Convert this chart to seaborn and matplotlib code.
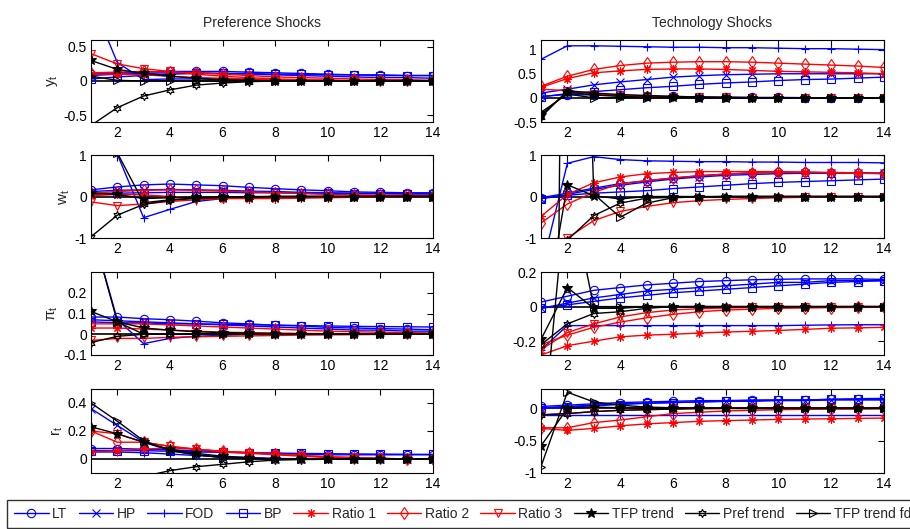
"""
Impulse responses to preference and technology shocks, 8 panels + shared legend
"""

import matplotlib
matplotlib.use("Agg")
import matplotlib.pyplot as plt
import matplotlib.ticker as mticker
import pandas as pd
import seaborn as sns

# Data
periods = list(range(1, 15))
series = ["LT", "HP", "FOD", "BP", "Ratio 1", "Ratio 2", "Ratio 3",
          "TFP trend", "Pref trend", "TFP trend fd"]

# preference shock, output
pref_y = [
    [0.10, 0.12, 0.13, 0.14, 0.14, 0.14, 0.13, 0.12, 0.11, 0.10, 0.09, 0.09, 0.08, 0.08],
    [0.08, 0.10, 0.11, 0.12, 0.12, 0.11, 0.10, 0.09, 0.08, 0.07, 0.06, 0.05, 0.05, 0.04],
    [1.20, 0.27, 0.02, 0.03, 0.03, 0.02, 0.02, 0.01, 0.01, 0.01, 0.00, 0.00, 0.00, 0.00],
    [0.03, 0.06, 0.08, 0.10, 0.11, 0.11, 0.11, 0.10, 0.10, 0.09, 0.09, 0.08, 0.08, 0.08],
    [0.10, 0.10, 0.09, 0.07, 0.05, 0.04, 0.03, 0.02, 0.01, 0.01, 0.00, 0.00, 0.00, 0.00],
    [0.12, 0.13, 0.14, 0.13, 0.12, 0.10, 0.08, 0.06, 0.05, 0.04, 0.03, 0.02, 0.02, 0.01],
    [0.40, 0.25, 0.18, 0.14, 0.10, 0.07, 0.05, 0.03, 0.02, 0.01, 0.01, 0.00, 0.00, 0.00],
    [0.30, 0.17, 0.11, 0.07, 0.04, 0.02, 0.01, 0.00, 0.00, 0.00, 0.00, 0.00, 0.00, 0.00],
    [-0.65, -0.39, -0.22, -0.13, -0.06, -0.03, -0.01, 0.00, 0.00, 0.00, 0.00, 0.00, 0.00, 0.00],
    [0.07, 0.01, 0.00, 0.00, 0.00, 0.00, 0.00, 0.00, 0.00, 0.00, 0.00, 0.00, 0.00, 0.00],
]

# preference shock, wages
pref_w = [
    [0.16, 0.23, 0.28, 0.30, 0.28, 0.26, 0.22, 0.19, 0.16, 0.14, 0.11, 0.10, 0.09, 0.09],
    [0.12, 0.15, 0.16, 0.17, 0.16, 0.15, 0.13, 0.12, 0.10, 0.09, 0.08, 0.07, 0.06, 0.06],
    [3.00, 1.02, -0.51, -0.31, -0.12, -0.05, -0.02, -0.01, 0.00, 0.00, 0.00, 0.00, 0.00, 0.00],
    [0.05, 0.08, 0.09, 0.10, 0.10, 0.10, 0.09, 0.09, 0.08, 0.08, 0.07, 0.07, 0.07, 0.07],
    [0.02, 0.05, 0.04, 0.00, -0.04, -0.05, -0.05, -0.05, -0.04, -0.03, -0.02, -0.02, -0.01, -0.01],
    [0.08, 0.12, 0.15, 0.16, 0.15, 0.13, 0.11, 0.09, 0.07, 0.05, 0.04, 0.03, 0.03, 0.02],
    [-0.13, -0.22, -0.18, -0.12, -0.08, -0.05, -0.03, -0.02, -0.01, -0.01, 0.00, 0.00, 0.00, 0.00],
    [0.08, 0.05, -0.05, -0.03, -0.02, -0.01, 0.00, 0.00, 0.00, 0.00, 0.00, 0.00, 0.00, 0.00],
    [-0.97, -0.45, -0.19, -0.09, -0.04, -0.02, -0.01, 0.00, 0.00, 0.00, 0.00, 0.00, 0.00, 0.00],
    [3.00, 1.05, -0.15, -0.08, -0.04, -0.02, -0.01, 0.00, 0.00, 0.00, 0.00, 0.00, 0.00, 0.00],
]

# preference shock, inflation
pref_pi = [
    [0.083, 0.083, 0.075, 0.070, 0.063, 0.055, 0.050, 0.043, 0.040, 0.033, 0.030, 0.027, 0.025, 0.022],
    [0.070, 0.065, 0.060, 0.055, 0.050, 0.045, 0.040, 0.035, 0.030, 0.025, 0.020, 0.020, 0.015, 0.015],
    [0.520, 0.070, -0.045, -0.020, -0.010, -0.005, 0.000, 0.000, 0.000, 0.000, 0.000, 0.000, 0.000, 0.000],
    [0.060, 0.055, 0.055, 0.050, 0.050, 0.048, 0.046, 0.044, 0.042, 0.040, 0.038, 0.037, 0.036, 0.035],
    [0.030, 0.030, 0.025, 0.020, 0.015, 0.010, 0.008, 0.006, 0.004, 0.003, 0.002, 0.001, 0.000, 0.000],
    [0.050, 0.050, 0.050, 0.045, 0.040, 0.035, 0.030, 0.025, 0.020, 0.015, 0.012, 0.010, 0.008, 0.006],
    [-0.030, -0.020, -0.020, -0.015, -0.012, -0.010, -0.008, -0.006, -0.004, -0.003, -0.002, -0.001, 0.000, 0.000],
    [0.110, 0.060, 0.030, 0.020, 0.012, 0.008, 0.005, 0.003, 0.002, 0.001, 0.000, 0.000, 0.000, 0.000],
    [-0.040, -0.010, 0.000, 0.000, 0.000, 0.000, 0.000, 0.000, 0.000, 0.000, 0.000, 0.000, 0.000, 0.000],
    [0.520, 0.060, 0.000, 0.000, 0.000, 0.000, 0.000, 0.000, 0.000, 0.000, 0.000, 0.000, 0.000, 0.000],
]

# preference shock, interest rate
pref_r = [
    [0.075, 0.075, 0.070, 0.065, 0.060, 0.050, 0.045, 0.040, 0.035, 0.030, 0.030, 0.030, 0.030, 0.030],
    [0.360, 0.240, 0.120, 0.060, 0.030, 0.010, 0.005, 0.000, 0.000, 0.000, 0.000, 0.000, 0.000, 0.000],
    [0.050, 0.050, 0.045, 0.035, 0.025, 0.015, 0.010, 0.005, 0.000, 0.000, 0.000, 0.000, 0.000, 0.000],
    [0.060, 0.060, 0.060, 0.055, 0.050, 0.048, 0.045, 0.042, 0.040, 0.038, 0.036, 0.035, 0.034, 0.033],
    [0.050, 0.060, 0.070, 0.080, 0.070, 0.055, 0.045, 0.035, 0.025, 0.015, 0.010, 0.005, 0.000, 0.000],
    [0.200, 0.120, 0.120, 0.090, 0.070, 0.055, 0.045, 0.035, 0.025, 0.015, 0.010, 0.005, 0.000, 0.000],
    [0.200, 0.180, 0.120, 0.090, 0.070, 0.050, 0.040, 0.030, 0.020, 0.010, 0.010, 0.000, 0.000, 0.000],
    [0.230, 0.180, 0.120, 0.070, 0.040, 0.020, 0.010, 0.000, 0.000, 0.000, 0.000, 0.000, 0.000, 0.000],
    [-0.300, -0.200, -0.125, -0.083, -0.055, -0.038, -0.020, -0.008, -0.004, -0.002, 0.000, 0.000, 0.000, 0.000],
    [0.400, 0.270, 0.130, 0.060, 0.030, 0.010, 0.000, 0.000, 0.000, 0.000, 0.000, 0.000, 0.000, 0.000],
]

# technology shock, output
tech_y = [
    [0.03, 0.07, 0.06, 0.05, 0.04, 0.03, 0.02, 0.015, 0.01, 0.01, 0.005, 0.00, 0.00, 0.00],
    [0.10, 0.18, 0.27, 0.33, 0.38, 0.43, 0.46, 0.48, 0.49, 0.50, 0.50, 0.50, 0.50, 0.50],
    [0.80, 1.08, 1.08, 1.07, 1.06, 1.05, 1.05, 1.04, 1.04, 1.03, 1.02, 1.02, 1.01, 1.00],
    [0.02, 0.09, 0.13, 0.17, 0.21, 0.24, 0.28, 0.31, 0.33, 0.36, 0.38, 0.39, 0.41, 0.43],
    [0.22, 0.40, 0.52, 0.56, 0.59, 0.60, 0.60, 0.59, 0.57, 0.55, 0.54, 0.53, 0.52, 0.50],
    [0.24, 0.45, 0.59, 0.67, 0.72, 0.74, 0.75, 0.75, 0.74, 0.72, 0.70, 0.68, 0.66, 0.63],
    [0.18, 0.15, 0.08, 0.05, 0.03, 0.02, 0.015, 0.01, 0.005, 0.00, 0.00, 0.00, 0.00, 0.00],
    [-0.35, 0.12, 0.06, 0.03, 0.015, 0.01, 0.005, 0.00, 0.00, 0.00, 0.00, 0.00, 0.00, 0.00],
    [-0.40, 0.15, 0.10, 0.07, 0.05, 0.03, 0.02, 0.01, 0.005, 0.00, 0.00, 0.00, 0.00, 0.00],
    [-0.30, 0.08, 0.00, 0.00, 0.00, 0.00, 0.00, 0.00, 0.00, 0.00, 0.00, 0.00, 0.00, 0.00],
]

# technology shock, wages
tech_w = [
    [-0.03, 0.08, 0.20, 0.31, 0.38, 0.44, 0.50, 0.54, 0.57, 0.58, 0.58, 0.57, 0.57, 0.56],
    [-0.05, 0.05, 0.17, 0.27, 0.35, 0.42, 0.47, 0.51, 0.53, 0.55, 0.56, 0.56, 0.56, 0.56],
    [-1.80, 0.80, 0.96, 0.89, 0.86, 0.85, 0.84, 0.84, 0.83, 0.83, 0.82, 0.82, 0.82, 0.81],
    [-0.05, 0.03, 0.08, 0.11, 0.14, 0.19, 0.23, 0.27, 0.31, 0.34, 0.36, 0.38, 0.40, 0.42],
    [-0.48, 0.05, 0.33, 0.47, 0.55, 0.58, 0.60, 0.60, 0.60, 0.60, 0.59, 0.58, 0.57, 0.55],
    [-0.64, -0.18, 0.10, 0.31, 0.38, 0.45, 0.50, 0.54, 0.57, 0.58, 0.58, 0.57, 0.56, 0.55],
    [-1.40, -1.00, -0.58, -0.36, -0.24, -0.15, -0.10, -0.07, -0.05, -0.03, -0.02, -0.01, -0.01, 0.00],
    [-3.40, 0.28, 0.02, -0.06, 0.00, 0.00, 0.00, 0.00, 0.00, 0.00, 0.00, 0.00, 0.00, 0.00],
    [-1.60, -1.05, -0.46, -0.16, -0.04, -0.02, -0.01, 0.00, 0.00, 0.00, 0.00, 0.00, 0.00, 0.00],
    [-45.0, 20.0, 0.06, -0.50, -0.16, -0.03, -0.01, 0.00, 0.00, 0.00, 0.00, 0.00, 0.00, 0.00],
]

# technology shock, inflation
tech_pi = [
    [0.026, 0.060, 0.094, 0.110, 0.125, 0.135, 0.145, 0.150, 0.155, 0.158, 0.160, 0.160, 0.160, 0.157],
    [-0.010, 0.020, 0.050, 0.070, 0.090, 0.100, 0.110, 0.120, 0.130, 0.140, 0.140, 0.150, 0.150, 0.150],
    [-0.250, -0.110, -0.110, -0.110, -0.110, -0.110, -0.110, -0.110, -0.110, -0.110, -0.108, -0.106, -0.105, -0.105],
    [-0.010, 0.010, 0.030, 0.050, 0.065, 0.080, 0.090, 0.100, 0.110, 0.120, 0.130, 0.140, 0.145, 0.150],
    [-0.280, -0.226, -0.200, -0.175, -0.165, -0.160, -0.153, -0.147, -0.143, -0.138, -0.132, -0.125, -0.123, -0.120],
    [-0.220, -0.165, -0.120, -0.090, -0.065, -0.045, -0.030, -0.020, -0.015, -0.010, -0.008, -0.006, -0.005, -0.004],
    [-0.250, -0.150, -0.100, -0.060, -0.035, -0.020, -0.012, -0.008, -0.005, -0.003, -0.002, -0.001, 0.000, 0.000],
    [-0.190, 0.110, -0.010, -0.010, 0.000, 0.000, 0.000, 0.000, 0.000, 0.000, 0.000, 0.000, 0.000, 0.000],
    [-0.220, -0.100, -0.040, -0.030, -0.010, 0.000, 0.000, 0.000, 0.000, 0.000, 0.000, 0.000, 0.000, 0.000],
    [-0.860, 0.740, 0.000, 0.000, 0.000, 0.000, 0.000, 0.000, 0.000, 0.000, 0.000, 0.000, 0.000, 0.000],
]

# technology shock, interest rate
tech_r = [
    [0.03, 0.05, 0.07, 0.09, 0.10, 0.11, 0.12, 0.12, 0.13, 0.13, 0.13, 0.14, 0.14, 0.14],
    [0.01, 0.03, 0.05, 0.07, 0.08, 0.09, 0.10, 0.11, 0.11, 0.12, 0.12, 0.13, 0.13, 0.13],
    [-0.10, -0.10, -0.10, -0.10, -0.10, -0.10, -0.10, -0.10, -0.10, -0.10, -0.10, -0.10, -0.10, -0.10],
    [0.00, 0.02, 0.04, 0.06, 0.08, 0.09, 0.10, 0.11, 0.12, 0.13, 0.13, 0.14, 0.15, 0.155],
    [-0.31, -0.34, -0.31, -0.27, -0.24, -0.22, -0.20, -0.19, -0.18, -0.17, -0.165, -0.16, -0.155, -0.15],
    [-0.30, -0.30, -0.22, -0.18, -0.13, -0.08, -0.06, -0.04, -0.03, -0.02, -0.015, -0.01, -0.01, -0.005],
    [-0.10, -0.08, -0.05, -0.03, -0.02, -0.01, -0.005, 0.00, 0.00, 0.00, 0.00, 0.00, 0.00, 0.00],
    [-0.58, 0.00, 0.02, 0.01, 0.00, 0.00, 0.00, 0.00, 0.00, 0.00, 0.00, 0.00, 0.00, 0.00],
    [-0.10, -0.08, -0.05, -0.03, -0.02, -0.01, 0.00, 0.00, 0.00, 0.00, 0.00, 0.00, 0.00, 0.00],
    [-0.90, 0.25, 0.10, 0.05, 0.02, 0.01, 0.00, 0.00, 0.00, 0.00, 0.00, 0.00, 0.00, 0.00],
]

row_labels = [r"$\mathregular{y_t}$", r"$\mathregular{w_t}$",
              r"$\mathregular{\pi_t}$", r"$\mathregular{r_t}$"]

# styles (MATLAB-like)
colors = ["blue"] * 4 + ["red"] * 3 + ["black"] * 3
markers = ["o", "x", "+", "s", (8, 2, 0), "d", "v", "*", (6, 1, 0), ">"]
filled = [False] * 7 + [True, False, False]

sns.set_theme(style="white")
plt.rcParams["font.family"] = ["Liberation Sans", "DejaVu Sans"]
plt.rcParams["axes.unicode_minus"] = False
plt.rcParams["mathtext.fontset"] = "custom"
plt.rcParams["mathtext.rm"] = "Liberation Sans"
plt.rcParams["mathtext.it"] = "Liberation Sans:italic"


def draw_panel(ax, values, ylim, yticks):
    ax.axhline(0, color="black", lw=1.2, zorder=1)
    for name, vals, c, m, f in zip(series, values, colors, markers, filled):
        df = pd.DataFrame({"t": periods, "v": vals})
        sns.lineplot(data=df, x="t", y="v", ax=ax, color=c, marker=m,
                     markersize=7 if m == "*" else 6, mfc=c if f else "none",
                     mec=c, mew=0.8, lw=1, label=name, legend=False)
    ax.set_xlim(1, 14)
    ax.set_ylim(*ylim)
    ax.set_xticks(range(2, 15, 2))
    ax.set_yticks(yticks)
    ax.yaxis.set_major_formatter(mticker.FormatStrFormatter("%g"))
    ax.set_xlabel("")
    ax.set_ylabel("")
    ax.tick_params(direction="in", length=4, width=0.8, top=True, right=True,
                   labelsize=10, pad=3, colors="black")
    for sp in ax.spines.values():
        sp.set_color("black")
        sp.set_linewidth(0.8)


W, H = 910, 529
fig = plt.figure(figsize=(W / 100, H / 100), dpi=100)

cols = [(91, 433), (541, 884)]
rows = [(40, 122), (155, 238), (272, 355), (389, 473)]

panels = [
    [(pref_y, (-0.6, 0.6), [-0.5, 0, 0.5]), (tech_y, (-0.5, 1.2), [-0.5, 0, 0.5, 1])],
    [(pref_w, (-1, 1), [-1, 0, 1]), (tech_w, (-1, 1), [-1, 0, 1])],
    [(pref_pi, (-0.1, 0.3), [-0.1, 0, 0.1, 0.2]), (tech_pi, (-0.28, 0.2), [-0.2, 0, 0.2])],
    [(pref_r, (-0.1, 0.5), [0, 0.2, 0.4]), (tech_r, (-1, 0.3), [-1, -0.5, 0])],
]

axes = []
for i, (top, bot) in enumerate(rows):
    for j, (x0, x1) in enumerate(cols):
        ax = fig.add_axes([x0 / W, 1 - bot / H, (x1 - x0) / W, (bot - top) / H])
        vals, ylim, yticks = panels[i][j]
        draw_panel(ax, vals, ylim, yticks)
        if j == 0:
            ax.set_ylabel(row_labels[i], fontsize=11, labelpad=2)
        if i == 0:
            ax.set_title(["Preference Shocks", "Technology Shocks"][j],
                         fontsize=10, pad=9)
        axes.append(ax)

handles, labels = axes[0].get_legend_handles_labels()
leg = fig.legend(handles, labels, loc="lower left",
                 bbox_to_anchor=(7 / W, 1 / H), ncol=10, fontsize=10,
                 frameon=True, fancybox=False, edgecolor="black",
                 handlelength=2.5, handletextpad=0.25, columnspacing=0.8,
                 borderpad=0.5, borderaxespad=0)
leg.get_frame().set_linewidth(1.0)

fig.savefig("out.png", dpi=100, facecolor="white")
